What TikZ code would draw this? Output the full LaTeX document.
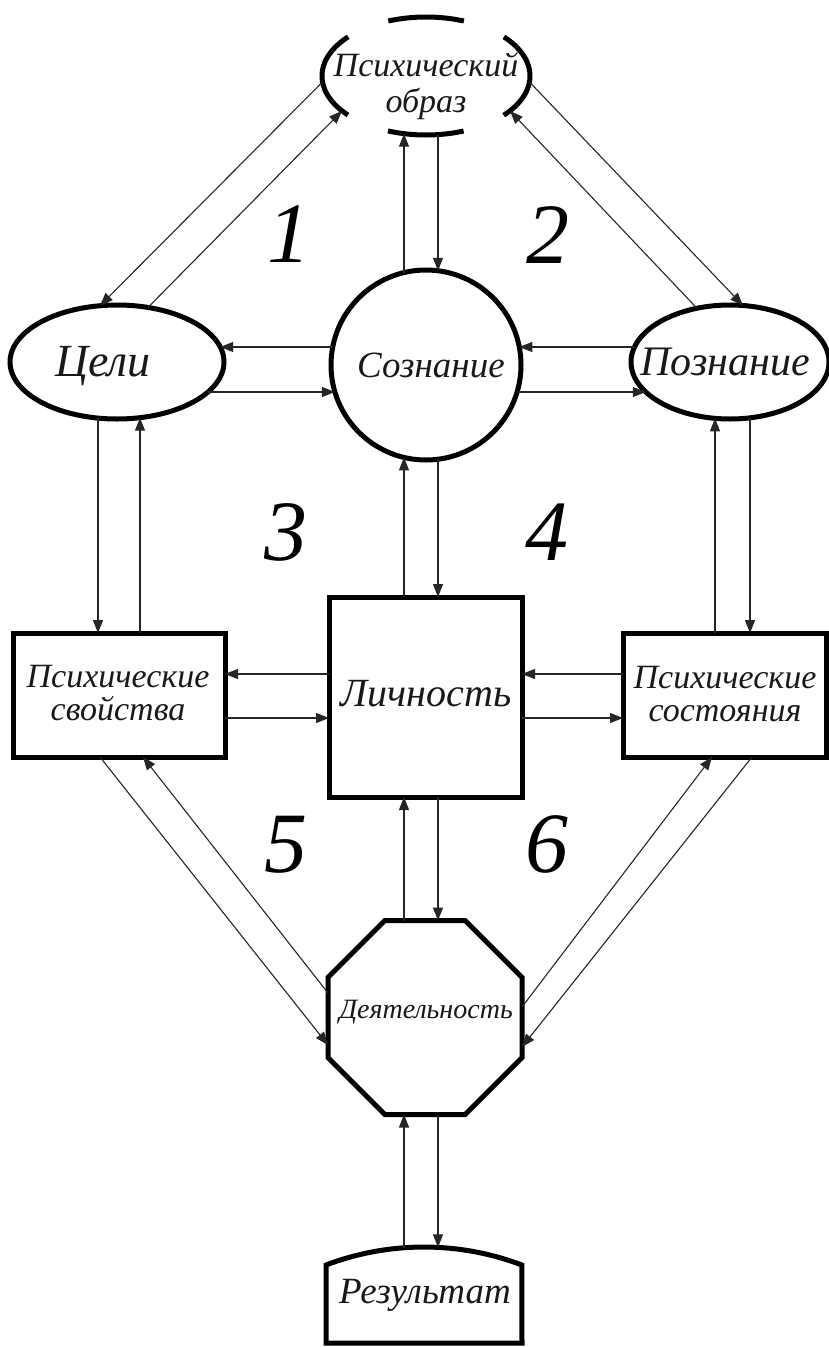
\documentclass[tikz,border=0pt]{standalone}
\usepackage{fontspec}
\setmainfont{Liberation Serif}
\usetikzlibrary{shapes.geometric,arrows.meta,calc}
\begin{document}
\begin{tikzpicture}[x=1pt,y=-1pt,
  bord/.style={line width=5pt, draw=black, fill=white, inner sep=0pt, outer sep=0pt},
  con/.style={line width=1.1pt, draw=black!85},
  arr/.style={con, -{Triangle[length=13pt,width=10pt]}},
  lab/.style={inner sep=0pt, align=center, text=black!90},
  num/.style={inner sep=0pt, font=\fontsize{86}{86}\selectfont\itshape}
]
\useasboundingbox (0,0) rectangle (829,1347);
\fill[white] (0,0) rectangle (829,1347);

% shapes
\node[bord, ellipse, fill=none, minimum width=208pt, minimum height=118pt,
  dash pattern=on 98pt off 43.3pt on 76.2pt off 43.3pt, dash phase=49pt] (obr) at (426,76) {};
\node[bord, ellipse, minimum width=214pt, minimum height=114pt] (celi) at (117,362) {};
\node[bord, circle, minimum size=190pt] (soz) at (426,365) {};
\node[bord, ellipse, minimum width=198pt, minimum height=114pt] (pozn) at (730,362) {};
\node[bord, rectangle, minimum width=212pt, minimum height=124pt] (sv) at (119,695) {};
\node[bord, rectangle, minimum width=203pt, minimum height=124pt] (sost) at (724.5,695) {};
\node[bord, rectangle, minimum width=193pt, minimum height=200pt] (lich) at (425.5,697) {};
\node[bord, regular polygon, regular polygon sides=8, minimum size=210pt] (dey) at (425,1017.5) {};
\coordinate (reztop) at (424,1247);
\draw[line width=5pt, fill=white] (326,1343) -- (326,1265)
  arc[start angle=249.2, end angle=290.8, radius=275.8] -- (522,1343) -- cycle;

% labels
\node[lab, font=\fontsize{34}{36}\selectfont\itshape] (t-obr) at (426,86) {Психический\\образ};
\node[lab, font=\fontsize{46}{46}\selectfont\itshape] (t-celi) at (103,366) {Цели};
\node[lab, font=\fontsize{37}{37}\selectfont\itshape] (t-soz) at (431,365) {Сознание};
\node[lab, font=\fontsize{42}{42}\selectfont\itshape] (t-pozn) at (725,362) {Познание};
\node[lab, font=\fontsize{34}{33}\selectfont\itshape] (t-sv) at (118,693) {Психические\\свойства};
\node[lab, font=\fontsize{34}{33}\selectfont\itshape] (t-sost) at (725,694) {Психические\\состояния};
\node[lab, font=\fontsize{40}{40}\selectfont\itshape] (t-lich) at (426,694) {Личность};
\node[lab, font=\fontsize{28}{28}\selectfont\itshape] (t-dey) at (426,1012) {Деятельность};
\node[lab, font=\fontsize{37}{37}\selectfont\itshape] (t-rez) at (425,1295) {Результат};

% numbers
\node[num] (n1) at (289,234) {1};
\node[num] (n2) at (548,235) {2};
\node[num] (n3) at (286,532) {3};
\node[num] (n4) at (547,532) {4};
\node[num] (n5) at (286,845) {5};
\node[num] (n6) at (547,844) {6};

% connectors: top
\draw[arr] ($(obr)+(-103.5,6)$) -- ($(celi)+(-17,-56.3)$);
\draw[arr] ($(celi)+(31,-54.6)$) -- ($(obr)+(-84,34.9)$);
\draw[arr] ($(obr)+(103.5,6)$) -- ($(pozn)+(13,-56.5)$);
\draw[arr] ($(pozn)+(-33,-53.7)$) -- ($(obr)+(84,34.9)$);
\draw[arr] ($(soz)+(-22,-92.4)$) -- ($(obr)+(-22,57.7)$);
\draw[arr] ($(obr)+(12,58.6)$) -- ($(soz)+(12,-94.2)$);
% middle row
\draw[arr] ($(soz)+(-93.3,-18)$) -- ($(celi)+(103.2,-15)$);
\draw[arr] ($(celi)+(91.0,30)$) -- ($(soz)+(-91.1,27)$);
\draw[arr] ($(pozn)+(-95.5,-15)$) -- ($(soz)+(93.3,-18)$);
\draw[arr] ($(soz)+(91.1,27)$) -- ($(pozn)+(-84.2,30)$);
% verticals to second row
\draw[arr] ($(celi)+(-19,56.1)$) -- ($(sv)+(-21,-62)$);
\draw[arr] ($(sv)+(21,-62)$) -- ($(celi)+(23,55.7)$);
\draw[arr] ($(sost)+(-9.5,-62)$) -- ($(pozn)+(-15,56.3)$);
\draw[arr] ($(pozn)+(20,55.8)$) -- ($(sost)+(25.5,-62)$);
\draw[arr] ($(lich)+(-21.5,-100)$) -- ($(soz)+(-22,92.4)$);
\draw[arr] ($(soz)+(12,94.2)$) -- ($(lich)+(12.5,-100)$);
% second row horizontals
\draw[arr] ($(lich)+(-96.5,-23)$) -- ($(sv)+(106,-21)$);
\draw[arr] ($(sv)+(106,23)$) -- ($(lich)+(-96.5,21)$);
\draw[arr] ($(sost)+(-101.5,-21)$) -- ($(lich)+(96.5,-23)$);
\draw[arr] ($(lich)+(96.5,21)$) -- ($(sost)+(-101.5,23)$);
% to activity
\draw[arr] ($(dey)+(-21,-97)$) -- ($(lich)+(-21.5,100)$);
\draw[arr] ($(lich)+(12.5,100)$) -- ($(dey)+(13,-97)$);
\draw[arr] ($(dey)+(-97,-24.5)$) -- ($(sv)+(24,62)$);
\draw[arr] ($(sv)+(-19,62)$) -- ($(dey)+(-97,27.5)$);
\draw[arr] ($(dey)+(97,-10.5)$) -- ($(sost)+(-12.5,62)$);
\draw[arr] ($(sost)+(27.5,62)$) -- ($(dey)+(97,29.5)$);
% result
\draw[arr] ($(reztop)+(-20,0.7)$) -- ($(dey)+(-21,97)$);
\draw[arr] ($(dey)+(13,97)$) -- ($(reztop)+(14,0.4)$);
\end{tikzpicture}
\end{document}
